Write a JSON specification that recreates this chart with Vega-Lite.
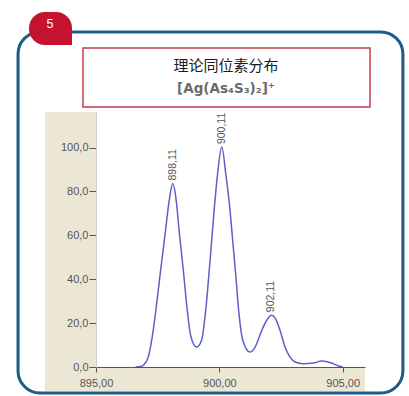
{
  "$schema": "https://vega.github.io/schema/vega-lite/v6.json",
  "width": 269,
  "height": 255,
  "autosize": {"type": "none"},
  "padding": {"left": 96, "top": 112, "right": 44, "bottom": 29},
  "background": "white",
  "config": {
    "view": {"stroke": null},
    "font": "Liberation Sans",
    "axis": {"grid": false}
  },
  "datasets": {
    "spectrum": [
      {"mz": 896.6, "intensity": 0}, {"mz": 896.8, "intensity": 0.2}, {"mz": 896.92, "intensity": 0.8},
      {"mz": 897.12, "intensity": 4.6}, {"mz": 897.28, "intensity": 13.7}, {"mz": 897.46, "intensity": 28.9},
      {"mz": 897.62, "intensity": 44.1}, {"mz": 897.8, "intensity": 60.5}, {"mz": 897.97, "intensity": 76},
      {"mz": 898.11, "intensity": 83.6}, {"mz": 898.24, "intensity": 77}, {"mz": 898.38, "intensity": 61},
      {"mz": 898.54, "intensity": 44.1}, {"mz": 898.67, "intensity": 28.9}, {"mz": 898.85, "intensity": 13.7},
      {"mz": 899.08, "intensity": 9.1}, {"mz": 899.28, "intensity": 12.2}, {"mz": 899.46, "intensity": 27.3},
      {"mz": 899.58, "intensity": 42.6}, {"mz": 899.69, "intensity": 57.7}, {"mz": 899.8, "intensity": 72.9},
      {"mz": 899.93, "intensity": 88.1}, {"mz": 900.1, "intensity": 100.2}, {"mz": 900.26, "intensity": 88.1},
      {"mz": 900.42, "intensity": 72.9}, {"mz": 900.54, "intensity": 57.7}, {"mz": 900.66, "intensity": 42.6},
      {"mz": 900.77, "intensity": 27.3}, {"mz": 900.95, "intensity": 12.2}, {"mz": 901.24, "intensity": 6.8},
      {"mz": 901.45, "intensity": 9.1}, {"mz": 901.72, "intensity": 16.7}, {"mz": 901.92, "intensity": 21.3},
      {"mz": 902.12, "intensity": 23.6}, {"mz": 902.3, "intensity": 21.5}, {"mz": 902.46, "intensity": 16.7},
      {"mz": 902.66, "intensity": 9.1}, {"mz": 902.86, "intensity": 4.6}, {"mz": 903.07, "intensity": 2.3},
      {"mz": 903.4, "intensity": 1.5}, {"mz": 903.81, "intensity": 1.8}, {"mz": 904.15, "intensity": 2.7},
      {"mz": 904.55, "intensity": 1.8}, {"mz": 904.8, "intensity": 0.6}, {"mz": 905.0, "intensity": 0}
    ],
    "peaks": [
      {"mz": 898.11, "intensity": 83.6, "label": "898,11"},
      {"mz": 900.11, "intensity": 100.2, "label": "900,11"},
      {"mz": 902.11, "intensity": 23.6, "label": "902,11"}
    ]
  },
  "layer": [
    {
      "data": {"values": [{}]},
      "mark": {"type": "rect", "fill": "#ece7d5"},
      "encoding": {
        "x": {"datum": 892.933, "type": "quantitative"},
        "x2": {"datum": 905.904},
        "y": {"datum": 116.2, "type": "quantitative"},
        "y2": {"datum": -10.94}
      }
    },
    {
      "data": {"values": [{}]},
      "mark": {"type": "rect", "fill": "white"},
      "encoding": {
        "x": {"datum": 895, "type": "quantitative"},
        "x2": {"datum": 905.904},
        "y": {"datum": 116.2, "type": "quantitative"},
        "y2": {"datum": 0}
      }
    },
    {
      "data": {"values": [{}]},
      "mark": {"type": "rect", "fill": "white", "stroke": "#c43d4f", "strokeWidth": 1.5},
      "encoding": {
        "x": {"datum": 894.473, "type": "quantitative"},
        "x2": {"datum": 906.107},
        "y": {"datum": 145.4, "type": "quantitative"},
        "y2": {"datum": 118.5}
      }
    },
    {
      "data": {"values": [{"t": "理论同位素分布"}]},
      "mark": {"type": "text", "font": "Noto Sans CJK SC", "fontSize": 15, "color": "#1a1a1a", "baseline": "middle", "align": "center"},
      "encoding": {
        "x": {"datum": 900.27, "type": "quantitative"},
        "y": {"datum": 137.2, "type": "quantitative"},
        "text": {"field": "t"}
      }
    },
    {
      "data": {"values": [{"t": "[Ag(As₄S₃)₂]⁺"}]},
      "mark": {"type": "text", "font": "DejaVu Sans", "fontWeight": "bold", "fontSize": 13.5, "color": "#6b6b6b", "baseline": "middle", "align": "center"},
      "encoding": {
        "x": {"datum": 900.27, "type": "quantitative"},
        "y": {"datum": 126.7, "type": "quantitative"},
        "text": {"field": "t"}
      }
    },
    {
      "data": {"name": "spectrum"},
      "mark": {"type": "line", "color": "#5c60c8", "strokeWidth": 1.5, "interpolate": "monotone"},
      "encoding": {
        "x": {
          "field": "mz", "type": "quantitative",
          "scale": {"domain": [895, 905.904], "nice": false, "zero": false},
          "axis": {
            "title": null, "values": [895, 900, 905], "grid": false, "zindex": 1,
            "labelExpr": "replace(format(datum.value, '.2f'), '.', ',')",
            "labelFontSize": 11, "labelColor": "#555555", "labelPadding": 5,
            "tickSize": 5, "tickColor": "#555555", "domainColor": "#555555",
            "labelFlush": false
          }
        },
        "y": {
          "field": "intensity", "type": "quantitative",
          "scale": {"domain": [0, 116.2], "nice": false},
          "axis": {
            "title": null, "values": [0, 20, 40, 60, 80, 100], "grid": false, "zindex": 1,
            "labelExpr": "replace(format(datum.value, '.1f'), '.', ',')",
            "labelFontSize": 11, "labelColor": "#555555", "labelPadding": 1,
            "tickSize": 7, "tickColor": "#555555", "domainColor": "#cfcfcf",
            "labelFlush": false
          }
        }
      }
    },
    {
      "data": {"name": "peaks"},
      "mark": {"type": "text", "angle": 270, "align": "left", "baseline": "middle", "dx": 3, "fontSize": 10.5, "color": "#555555"},
      "encoding": {
        "x": {"field": "mz", "type": "quantitative"},
        "y": {"field": "intensity", "type": "quantitative"},
        "text": {"field": "label"}
      }
    },
    {
      "data": {"values": [{}]},
      "mark": {"type": "rect", "fill": "white", "fillOpacity": 0, "stroke": "#1b5c88", "strokeWidth": 3, "cornerRadius": 22},
      "encoding": {
        "x": {"datum": 891.84, "type": "quantitative"},
        "x2": {"datum": 907.44},
        "y": {"datum": 152.7, "type": "quantitative"},
        "y2": {"datum": -11.85}
      }
    },
    {
      "data": {"values": [{}]},
      "mark": {"type": "rect", "fill": "#c4122f", "cornerRadiusTopLeft": 16, "cornerRadiusTopRight": 16, "cornerRadiusBottomLeft": 16, "cornerRadiusBottomRight": 0},
      "encoding": {
        "x": {"datum": 892.284, "type": "quantitative"},
        "x2": {"datum": 894.027},
        "y": {"datum": 161.8, "type": "quantitative"},
        "y2": {"datum": 146.76}
      }
    },
    {
      "data": {"values": [{"t": "5"}]},
      "mark": {"type": "text", "fontSize": 12.5, "color": "white", "baseline": "middle", "align": "center"},
      "encoding": {
        "x": {"datum": 893.135, "type": "quantitative"},
        "y": {"datum": 156.3, "type": "quantitative"},
        "text": {"field": "t"}
      }
    }
  ]
}
